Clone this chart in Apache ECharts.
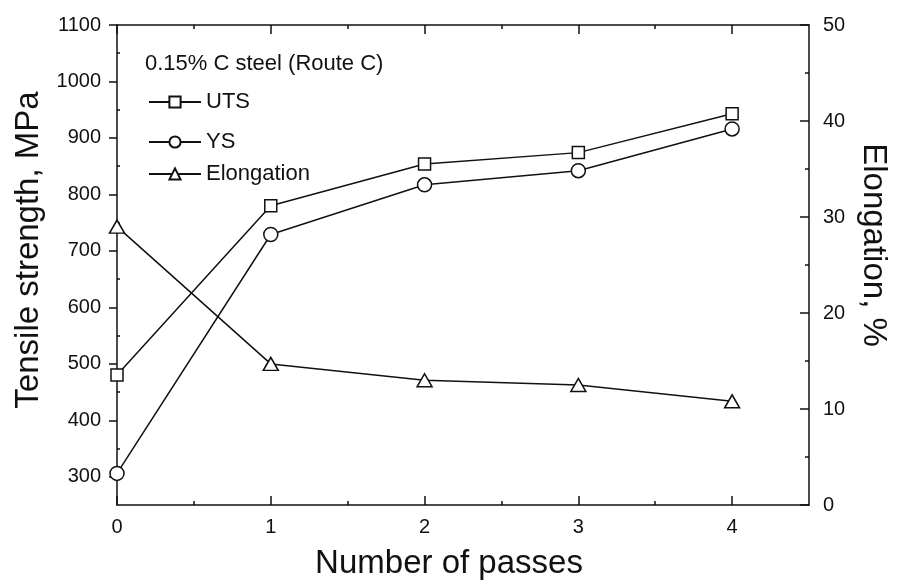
<!DOCTYPE html>
<html>
<head>
<meta charset="utf-8">
<script src="https://cdn.jsdelivr.net/npm/echarts@6/dist/echarts.min.js"></script>
<style>html,body{margin:0;padding:0;background:#fff;}#c{width:898px;height:585px;}</style>
</head>
<body>
<div id="c"></div>
<script>
const passes = [0, 1, 2, 3, 4];
const uts = [480, 780, 854, 874, 943];
const ys = [306, 729, 817, 842, 916];
const elongation = [29.0, 14.7, 13.0, 12.5, 10.8];
const xTicks = [0, 1, 2, 3, 4];
const xMinor = [0.5, 1.5, 2.5, 3.5];
const leftTicks = [300, 400, 500, 600, 700, 800, 900, 1000, 1100];
const leftMinor = [350, 450, 550, 650, 750, 850, 950, 1050];
const rightTicks = [0, 10, 20, 30, 40, 50];
const rightMinor = [5, 15, 25, 35, 45];

const FONT = 'Liberation Sans';
const INK = '#111';
const chart = echarts.init(document.getElementById('c'));
const pairs = (v) => passes.map((p, i) => [p, v[i]]);
const lineAx = {show: true, onZero: false, lineStyle: {color: INK, width: 1.5}};
const noLine = {show: false, onZero: false};
const noLab = {show: false};
const noSplit = {show: false};
const plain = (v) => String(v);

const option = {
  animation: false,
  backgroundColor: '#fff',
  title: {
    text: '0.15% C steel (Route C)',
    left: 140, top: 48,
    textStyle: {fontFamily: FONT, fontSize: 22, fontWeight: 'normal', color: INK}
  },
  legend: [
    {data: ['UTS'], left: 143, top: 86},
    {data: ['YS'], left: 143, top: 126},
    {data: ['Elongation'], left: 143, top: 158}
  ].map(l => Object.assign(l, {
    orient: 'vertical', itemWidth: 52, itemHeight: 14, itemGap: 0,
    textStyle: {fontFamily: FONT, fontSize: 22, color: INK}
  })),
  grid: {left: 117, right: 86, top: 25, bottom: 79, containLabel: false},
  xAxis: [
    {type: 'value', position: 'bottom', min: 0, max: 4.5,
     axisLine: lineAx, splitLine: noSplit,
     axisTick: {show: true, inside: true, length: 9, customValues: xTicks, lineStyle: {color: INK, width: 1.5}},
     axisLabel: {show: true, customValues: xTicks, formatter: plain, margin: 12, fontFamily: FONT, fontSize: 20, color: INK},
     name: 'Number of passes', nameLocation: 'middle', nameGap: 42,
     nameTextStyle: {fontFamily: FONT, fontSize: 33, color: INK, padding: [0, 28, 0, 0]}},
    {type: 'value', position: 'top', min: 0, max: 4.5,
     axisLine: lineAx, splitLine: noSplit, axisLabel: noLab,
     axisTick: {show: true, inside: true, length: 9, customValues: xTicks, lineStyle: {color: INK, width: 1.5}}},
    {type: 'value', position: 'bottom', min: 0, max: 4.5,
     axisLine: noLine, splitLine: noSplit, axisLabel: noLab,
     axisTick: {show: true, inside: true, length: 4, customValues: xMinor, lineStyle: {color: INK, width: 1.5}}},
    {type: 'value', position: 'top', min: 0, max: 4.5,
     axisLine: noLine, splitLine: noSplit, axisLabel: noLab,
     axisTick: {show: true, inside: true, length: 4, customValues: xMinor, lineStyle: {color: INK, width: 1.5}}}
  ],
  yAxis: [
    {type: 'value', position: 'left', min: 250, max: 1100,
     axisLine: lineAx, splitLine: noSplit,
     axisTick: {show: true, inside: false, length: 8, customValues: leftTicks, lineStyle: {color: INK, width: 1.5}},
     axisLabel: {show: true, customValues: leftTicks, formatter: plain, margin: 16, fontFamily: FONT, fontSize: 20, color: INK},
     name: 'Tensile strength, MPa', nameLocation: 'middle', nameGap: 72,
     nameTextStyle: {fontFamily: FONT, fontSize: 33, color: INK, padding: [0, 0, 0, 30]}},
    {type: 'value', position: 'right', min: 0, max: 50,
     axisLine: lineAx, splitLine: noSplit,
     axisTick: {show: true, inside: true, length: 9, customValues: rightTicks, lineStyle: {color: INK, width: 1.5}},
     axisLabel: {show: true, customValues: rightTicks, formatter: plain, margin: 14, fontFamily: FONT, fontSize: 20, color: INK},
     name: 'Elongation, %', nameLocation: 'middle', nameGap: 48, nameRotate: -90,
     nameTextStyle: {fontFamily: FONT, fontSize: 33, color: INK, padding: [0, 40, 0, 0]}},
    {type: 'value', position: 'left', min: 250, max: 1100,
     axisLine: noLine, splitLine: noSplit, axisLabel: noLab,
     axisTick: {show: true, inside: true, length: 3, customValues: leftMinor, lineStyle: {color: INK, width: 1.5}}},
    {type: 'value', position: 'right', min: 0, max: 50,
     axisLine: noLine, splitLine: noSplit, axisLabel: noLab,
     axisTick: {show: true, inside: true, length: 4, customValues: rightMinor, lineStyle: {color: INK, width: 1.5}}}
  ],
  series: [
    {name: 'UTS', type: 'line', xAxisIndex: 0, yAxisIndex: 0, data: pairs(uts),
     symbol: 'rect', symbolSize: 12, z: 3},
    {name: 'YS', type: 'line', xAxisIndex: 0, yAxisIndex: 0, data: pairs(ys),
     symbol: 'circle', symbolSize: 14, z: 3},
    {name: 'Elongation', type: 'line', xAxisIndex: 0, yAxisIndex: 1, data: pairs(elongation),
     symbol: 'triangle', symbolSize: [15, 13], z: 3}
  ].map(s => Object.assign(s, {
    showAllSymbol: true,
    lineStyle: {color: INK, width: 1.5},
    itemStyle: {color: '#fff', borderColor: INK, borderWidth: 1.5}
  }))
};
chart.setOption(option);
</script>
</body>
</html>
